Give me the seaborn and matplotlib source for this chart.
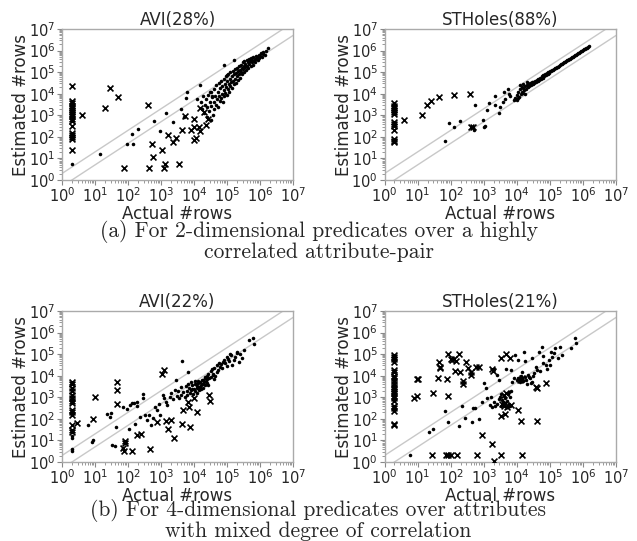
import numpy as np
import pandas as pd
import matplotlib
matplotlib.use("Agg")
import matplotlib.pyplot as plt
import seaborn as sns
from matplotlib.ticker import LogLocator

sns.set_style("ticks")
plt.rcParams['font.family'] = ['DejaVu Sans']

# ---- data (log10 of Actual #rows, log10 of Estimated #rows) ----
# Panel (a) AVI(28%)
avi2_cross = [(0.3, 4.35), (0.3, 3.65), (0.3, 3.55), (0.3, 3.45), (0.3, 3.35), (0.3, 3.25), (0.3, 3.15),
              (0.3, 3.05), (0.3, 2.95), (0.3, 2.85), (0.3, 2.75), (0.3, 2.5), (0.3, 2.2), (0.3, 2.1),
              (0.3, 2.0), (0.3, 1.9), (0.3, 1.4),
              (0.6, 3.0), (1.3, 3.35), (1.44, 4.25), (1.69, 3.85), (2.62, 3.5), (2.72, 1.68),
              (2.75, 1.08), (3.03, 1.4), (1.87, 0.55), (2.63, 0.55), (3.1, 0.55), (3.12, 0.75),
              (3.54, 0.75), (3.21, 2.1), (3.36, 1.78), (3.44, 1.97), (3.64, 2.33), (3.72, 2.96),
              (3.9, 2.3), (3.99, 1.85), (3.99, 2.45), (4.01, 2.85), (4.16, 2.48), (4.17, 2.25),
              (4.36, 2.55), (4.29, 3.15), (4.42, 2.85), (4.19, 3.35), (4.05, 1.95)]
avi2_dot = [(0.3, 0.75), (1.16, 1.2), (1.97, 1.68), (2.12, 2.13), (2.31, 2.35), (2.15, 1.68), (2.78, 2.72),
            (2.98, 2.25), (3.16, 3.1), (3.36, 2.7), (3.61, 3.3), (3.7, 2.9), (3.77, 3.8), (3.79, 4.1),
            (4.19, 4.42), (4.09, 3.75), (4.47, 4.1), (4.54, 3.88), (4.9, 5.34), (5.0, 4.88), (5.2, 5.58),
            (4.22, 3.6), (4.25, 3.3), (4.28, 3.9), (4.3, 3.1), (4.32, 3.5), (4.35, 3.75), (4.38, 2.9),
            (4.4, 3.4), (4.42, 3.95), (4.45, 3.2), (4.48, 3.6), (4.5, 4.1), (4.5, 2.8),
            (4.52, 3.45), (4.55, 3.85), (4.57, 3.0), (4.6, 4.2), (4.6, 3.6), (4.62, 3.3), (4.65, 3.9),
            (4.67, 4.4), (4.68, 3.5), (4.7, 3.75), (4.72, 4.1), (4.74, 3.4), (4.75, 4.5), (4.77, 3.9),
            (4.78, 3.65), (4.8, 4.25), (4.82, 4.6), (4.83, 3.8), (4.85, 4.0), (4.86, 4.35), (4.88, 3.6),
            (4.9, 4.7), (4.9, 4.15), (4.92, 3.9), (4.94, 4.45), (4.95, 4.05), (4.97, 4.8), (4.98, 4.3),
            (5.0, 3.95), (5.0, 4.6), (5.02, 4.2), (5.04, 4.9), (5.05, 4.45), (5.07, 4.1), (5.08, 4.7),
            (5.1, 4.35), (5.1, 5.0), (5.12, 4.55), (5.14, 4.8), (5.15, 4.25), (5.17, 5.05), (5.18, 4.6),
            (5.2, 4.9), (5.21, 4.45), (5.23, 5.15), (5.24, 4.7), (5.26, 4.95), (5.27, 4.5), (5.29, 5.2),
            (5.3, 4.8), (5.32, 5.05), (5.33, 4.65), (5.35, 5.3), (5.36, 4.9), (5.38, 5.1),
            (5.4, 4.75), (5.41, 5.35), (5.43, 5.0), (5.44, 5.2), (5.46, 4.9), (5.48, 5.45), (5.49, 5.15),
            (5.5, 5.3), (5.52, 5.0), (5.53, 5.5), (5.55, 5.25), (5.56, 5.4), (5.58, 5.1), (5.6, 5.55),
            (5.61, 5.3), (5.63, 5.45), (5.65, 5.2), (5.66, 5.6), (5.68, 5.4), (5.7, 5.5),
            (5.72, 5.3), (5.73, 5.65), (5.75, 5.45), (5.77, 5.55), (5.78, 5.35), (5.8, 5.7), (5.82, 5.5),
            (5.84, 5.6), (5.86, 5.45), (5.88, 5.75), (5.9, 5.6), (5.92, 5.7), (5.94, 5.55), (5.96, 5.8),
            (5.98, 5.65), (6.0, 5.75), (6.03, 5.9), (6.05, 5.7), (6.08, 5.85), (6.1, 5.95), (6.14, 5.8),
            (6.18, 6.0), (6.25, 6.1)]

# Panel (a) STHoles(88%)
sth2_cross = [(0.3, 3.55), (0.3, 3.45), (0.3, 3.35), (0.3, 3.25), (0.3, 3.15), (0.3, 3.05), (0.3, 2.7),
              (0.3, 2.6), (0.3, 2.5), (0.3, 2.3), (0.3, 1.9), (0.3, 1.82), (0.3, 1.75),
              (0.59, 2.8), (1.13, 3.0), (1.27, 3.5), (1.42, 3.64), (1.65, 3.86), (2.09, 3.95),
              (2.59, 4.0), (2.62, 2.47), (2.68, 2.47)]
sth2_dot = [(1.84, 1.8), (1.94, 2.62), (2.09, 2.47), (2.29, 2.73), (2.74, 3.47), (2.71, 2.3), (2.98, 2.8),
            (3.0, 2.45), (3.03, 2.5), (3.1, 3.26), (3.15, 3.55), (3.34, 3.9), (3.33, 3.47), (3.47, 3.1),
            (3.5, 3.38), (3.57, 3.6), (3.62, 4.1), (3.65, 3.75), (3.73, 4.2), (3.75, 4.0), (3.8, 3.88),
            (3.93, 3.7), (3.96, 3.8), (3.95, 3.75), (4.0, 3.7), (4.05, 3.8), (4.1, 4.4), (4.15, 4.1),
            (4.2, 4.45), (4.25, 4.0), (4.3, 4.55),
            (4.0, 3.95), (4.05, 4.1), (4.08, 3.85), (4.1, 4.2), (4.12, 4.0), (4.15, 4.3), (4.18, 4.05),
            (4.2, 4.25), (4.22, 4.15), (4.25, 4.35), (4.28, 4.2), (4.3, 4.4), (4.33, 4.3), (4.35, 4.45),
            (4.38, 4.35), (4.4, 4.5), (4.43, 4.4), (4.45, 4.55), (4.48, 4.45), (4.5, 4.55), (4.53, 4.5),
            (4.55, 4.6), (4.58, 4.55), (4.6, 4.65), (4.63, 4.6), (4.65, 4.7), (4.68, 4.65), (4.7, 4.75),
            (4.73, 4.7), (4.75, 4.8), (4.78, 4.75), (4.8, 4.85), (4.83, 4.8), (4.85, 4.9), (4.88, 4.88),
            (4.9, 4.95), (4.93, 4.92), (4.95, 5.0), (4.98, 4.98), (5.0, 5.05), (5.03, 5.05), (5.06, 5.1),
            (5.09, 5.12), (5.12, 5.15), (5.15, 5.18), (5.18, 5.2), (5.21, 5.24), (5.24, 5.26), (5.27, 5.3),
            (5.3, 5.33), (5.33, 5.36), (5.36, 5.39), (5.39, 5.42), (5.42, 5.45), (5.45, 5.48), (5.48, 5.51),
            (5.51, 5.54), (5.54, 5.57), (5.57, 5.6), (5.6, 5.63), (5.63, 5.66), (5.66, 5.69), (5.69, 5.72),
            (5.72, 5.75), (5.75, 5.78), (5.78, 5.81), (5.81, 5.84), (5.84, 5.87), (5.87, 5.9), (5.9, 5.93),
            (5.93, 5.96), (5.96, 5.99), (5.99, 6.02), (6.02, 6.05), (6.05, 6.08), (6.08, 6.11),
            (6.11, 6.14), (6.14, 6.17), (6.18, 6.22)]

# Panel (b) AVI(22%)
avi4_cross = [(0.3, 3.72), (0.3, 3.6), (0.3, 3.45), (0.3, 3.3), (0.3, 3.1), (0.3, 2.95), (0.3, 2.85),
              (0.3, 2.72), (0.3, 2.4), (0.3, 2.3), (0.3, 2.2), (0.3, 1.7), (0.3, 1.48), (0.3, 1.4),
              (0.46, 1.8), (0.95, 2.0), (1.0, 3.0), (1.66, 3.7), (1.68, 3.35), (1.68, 2.7), (1.84, 0.64),
              (1.89, 0.5), (1.92, 0.9), (1.92, 0.97), (2.13, 0.5), (2.26, 1.26), (2.38, 1.32), (2.67, 0.62),
              (2.87, 1.85), (3.02, 4.08), (3.09, 4.28), (3.15, 1.9), (3.2, 1.52), (3.29, 1.97), (3.4, 1.12),
              (3.63, 1.76), (3.68, 2.4), (3.83, 2.78), (3.85, 2.56), (3.88, 1.63), (4.0, 2.96),
              (4.08, 2.32), (4.45, 3.1), (4.48, 2.85)]
avi4_dot = [(0.3, 1.2), (0.3, 1.1), (0.3, 0.62), (0.3, 0.52),
            (0.78, 1.7), (0.91, 0.95), (0.95, 1.03), (1.36, 2.22), (1.45, 2.07), (1.47, 2.27), (1.5, 0.8),
            (1.61, 0.72), (1.64, 1.6), (1.86, 2.55), (1.96, 2.47), (2.02, 1.51), (2.06, 2.62), (2.11, 2.73),
            (2.18, 2.73), (2.26, 2.78), (2.28, 2.6), (2.46, 3.16), (2.44, 2.96), (2.21, 1.77), (2.36, 2.08),
            (2.52, 2.2), (2.59, 1.93), (2.65, 2.16), (2.69, 1.73), (2.77, 2.04), (2.82, 2.53), (2.87, 2.4),
            (2.97, 2.16), (3.07, 3.12), (3.15, 2.78), (3.19, 2.62), (3.27, 3.01), (3.37, 2.93), (3.42, 3.32),
            (3.45, 3.78), (3.49, 3.08), (3.6, 3.47), (3.63, 4.66), (3.68, 3.24), (3.76, 3.52), (3.78, 3.12),
            (3.83, 4.17), (3.93, 3.4), (4.03, 3.63), (4.1, 3.52), (4.13, 3.74), (4.18, 3.47), (4.23, 3.63),
            (4.28, 3.78), (4.33, 3.94), (4.38, 3.67), (4.43, 3.58), (4.59, 4.01), (4.61, 3.86), (4.69, 4.17),
            (4.79, 4.4), (4.89, 4.63), (4.99, 4.45), (5.04, 4.79), (5.11, 4.94), (5.15, 4.48), (5.24, 4.86),
            (5.29, 5.06), (5.35, 4.63), (5.68, 5.64), (5.8, 5.75), (5.82, 5.48),
            (3.8, 3.3), (3.82, 3.6), (3.85, 3.45), (3.88, 3.2), (3.9, 3.7), (3.92, 3.35), (3.95, 3.55),
            (3.97, 3.15), (4.0, 3.4), (4.02, 3.75), (4.04, 3.3), (4.06, 3.6), (4.08, 3.45), (4.1, 3.2),
            (4.12, 3.65), (4.14, 3.5), (4.16, 3.35), (4.18, 3.7), (4.2, 3.55), (4.22, 3.4), (4.24, 3.8),
            (4.26, 3.6), (4.28, 3.45), (4.3, 3.7), (4.32, 3.9), (4.34, 3.55), (4.36, 3.75), (4.38, 4.0),
            (4.4, 3.85), (4.42, 4.1), (4.45, 3.9), (4.5, 4.2), (4.52, 3.95), (4.55, 4.3), (4.58, 4.1),
            (4.62, 4.35), (4.65, 4.0), (4.7, 4.5), (4.72, 4.25), (4.75, 4.6), (4.82, 4.55), (4.85, 4.35),
            (4.9, 4.75), (4.95, 4.6), (5.0, 4.85), (5.05, 4.7), (5.1, 5.0), (5.2, 4.75), (5.3, 5.1),
            (5.4, 5.0), (5.45, 4.8), (5.5, 5.2), (3.3, 3.2), (3.5, 3.3), (3.55, 2.95), (3.6, 3.1),
            (3.72, 3.0), (3.1, 2.95), (2.95, 2.7)]

# Panel (b) STHoles(21%)
sth4_cross = [(0.3, 4.98), (0.3, 4.88), (0.3, 4.78), (0.3, 4.65), (0.3, 4.25), (0.3, 4.15), (0.3, 4.0),
              (0.3, 3.88), (0.3, 3.75), (0.3, 3.6), (0.3, 3.48), (0.3, 3.38), (0.3, 3.28), (0.3, 3.18),
              (0.3, 3.08), (0.3, 2.95), (0.3, 2.85), (0.3, 2.6), (0.3, 2.5), (0.3, 2.35), (0.3, 1.78),
              (0.3, 1.7),
              (0.9, 2.95), (0.97, 3.08), (0.98, 3.85), (1.02, 3.87), (1.47, 3.18), (1.62, 3.91), (1.65, 4.65),
              (1.68, 4.42), (1.69, 4.34), (1.9, 3.85), (1.92, 3.08), (1.91, 4.99), (2.0, 4.78), (2.05, 4.74),
              (2.1, 4.78), (2.15, 4.7), (2.12, 4.22), (2.25, 4.99), (2.27, 4.16), (2.37, 3.77), (2.37, 3.6),
              (2.47, 4.62), (2.53, 4.34), (2.63, 4.16), (2.63, 4.03), (2.78, 4.42), (2.86, 4.42), (3.26, 4.31),
              (3.28, 4.2), (3.53, 4.84), (3.68, 4.99), (3.78, 4.84), (3.51, 2.15), (3.64, 2.24), (3.81, 2.64),
              (4.04, 2.41), (4.14, 1.9), (4.57, 3.49), (4.6, 3.45), (4.62, 1.9), (4.87, 3.65), (2.96, 1.25),
              (3.26, 0.82), (1.45, 0.33), (1.85, 0.33), (1.93, 0.33), (2.0, 0.33), (2.2, 0.33), (2.79, 0.33),
              (3.53, 0.33), (4.16, 0.33), (3.31, 0.05), (3.55, 2.7), (3.6, 2.6), (3.65, 2.75), (3.7, 2.55),
              (3.62, 3.1), (3.68, 3.2), (4.1, 3.8), (4.15, 3.9)]
sth4_dot = [(0.77, 0.33), (1.36, 1.41), (1.47, 1.53), (1.83, 2.38), (1.93, 1.84), (2.25, 1.68), (2.35, 2.61),
            (2.43, 2.06), (2.66, 1.87), (2.68, 2.49), (2.74, 2.49), (2.86, 1.99), (2.96, 2.77), (3.01, 3.65),
            (3.06, 3.42), (3.11, 2.95), (3.18, 2.64), (3.21, 3.03), (3.31, 4.31), (3.41, 4.03), (3.46, 3.8),
            (3.51, 3.14), (3.56, 2.87), (3.58, 2.72), (3.66, 4.3), (3.71, 2.57), (3.76, 3.26), (3.84, 4.27),
            (3.86, 3.69), (3.91, 3.88), (3.96, 4.96), (4.04, 4.73), (4.06, 3.88), (4.11, 3.8), (4.16, 4.19),
            (4.22, 5.08), (4.24, 4.68), (4.29, 3.8), (4.37, 3.96), (4.42, 3.65), (4.47, 4.81), (4.52, 4.11),
            (4.59, 4.42), (4.62, 4.27), (4.67, 5.12), (4.75, 5.35), (4.79, 4.57), (4.87, 4.5), (4.97, 4.73),
            (5.02, 5.12), (5.07, 4.88), (5.12, 5.04), (5.17, 5.27), (5.25, 4.81), (5.32, 5.35), (5.37, 4.96),
            (5.65, 5.3), (5.77, 5.77), (5.79, 5.5), (3.45, 2.9), (3.5, 3.0), (3.52, 2.6), (3.58, 2.8),
            (3.6, 3.05), (3.65, 2.95), (3.7, 2.85), (3.72, 3.15), (3.75, 2.7), (3.78, 3.0), (3.8, 2.6),
            (3.82, 3.3), (3.4, 2.7), (3.35, 2.6), (3.3, 2.8), (3.25, 2.55), (4.0, 3.8), (4.05, 3.9),
            (4.1, 3.7), (4.12, 4.0), (4.15, 3.85), (4.2, 3.75), (4.25, 3.95), (4.3, 3.6), (4.35, 4.05),
            (4.4, 3.9), (4.45, 3.7), (4.5, 4.0), (4.7, 4.2), (4.8, 4.9), (4.9, 4.3), (5.0, 4.5)]

panel_titles = ["AVI(28%)", "STHoles(88%)", "AVI(22%)", "STHoles(21%)"]
panel_cross = [avi2_cross, sth2_cross, avi4_cross, sth4_cross]
panel_dot = [avi2_dot, sth2_dot, avi4_dot, sth4_dot]
captions = ["(a) For 2-dimensional predicates over a highly\ncorrelated attribute-pair",
            "(b) For 4-dimensional predicates over attributes\nwith mixed degree of correlation"]
band_factor = 2.0

W, H = 637, 541
fig = plt.figure(figsize=(W / 100, H / 100), dpi=100)

def px_axes(left, top, right, bottom):
    return fig.add_axes([left / W, 1 - bottom / H, (right - left) / W, (bottom - top) / H])

rects = [(62, 29, 293, 180), (384.5, 29, 616, 180), (62, 311, 293, 462), (384.5, 311, 616, 462)]

for i, (rect, title) in enumerate(zip(rects, panel_titles)):
    ax = px_axes(*rect)
    cr = pd.DataFrame(panel_cross[i], columns=["lx", "ly"])
    dt = pd.DataFrame(panel_dot[i], columns=["lx", "ly"])
    cr["x"], cr["y"] = 10 ** cr["lx"], 10 ** cr["ly"]
    dt["x"], dt["y"] = 10 ** dt["lx"], 10 ** dt["ly"]
    ax.set_xscale("log")
    ax.set_yscale("log")
    lx = np.array([1e0, 1e7])
    ax.plot(lx, lx * band_factor, color="#c8c8c8", lw=1.0, zorder=1)
    ax.plot(lx, lx / band_factor, color="#c8c8c8", lw=1.0, zorder=1)
    sns.scatterplot(data=dt, x="x", y="y", marker=".", color="black", s=26, linewidth=0, ax=ax, zorder=3)
    sns.scatterplot(data=cr, x="x", y="y", marker="x", color="black", s=18, linewidth=1.2, ax=ax, zorder=3)
    ax.set_xlim(1e0, 1e7)
    ax.set_ylim(1e0, 1e7)
    for axis in (ax.xaxis, ax.yaxis):
        axis.set_major_locator(LogLocator(base=10, numticks=10))
        axis.set_minor_locator(LogLocator(base=10, subs=np.arange(2, 10), numticks=10))
    ax.tick_params(which="major", length=3.5, width=0.8, color="#888888", labelsize=10.5, pad=1.2)
    ax.tick_params(which="minor", length=2, width=0.6, color="#888888")
    for s in ax.spines.values():
        s.set_color("#aaaaaa")
        s.set_linewidth(1.0)
    ax.set_title(title, fontsize=12, pad=3)
    ax.set_xlabel("Actual #rows", fontsize=12, labelpad=-0.5)
    ax.set_ylabel("Estimated #rows", fontsize=12, labelpad=-1)

fig.text(0.5, 1 - 241 / H, captions[0], ha="center", va="center", fontsize=15.5,
         family=["cmr10", "DejaVu Serif"], linespacing=1.0)
fig.text(0.5, 1 - 520 / H, captions[1], ha="center", va="center", fontsize=15.5,
         family=["cmr10", "DejaVu Serif"], linespacing=1.0)

fig.savefig("out.png", dpi=100)
